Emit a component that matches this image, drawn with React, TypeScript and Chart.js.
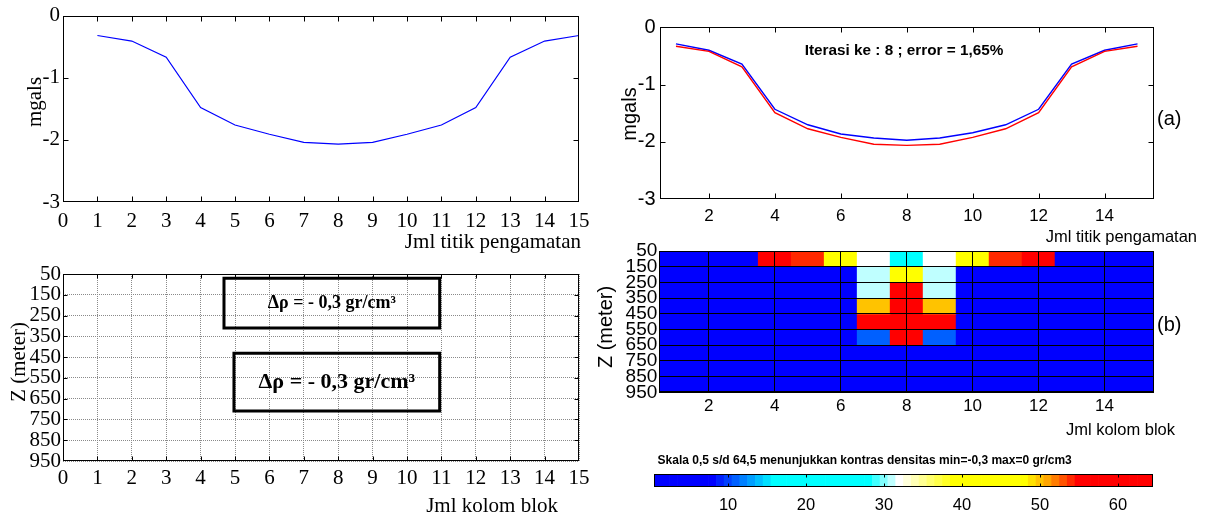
import React, { useEffect, useRef } from 'react';
import { Chart, registerables } from 'chart.js';

Chart.register(...registerables);

const SERIF = "'Liberation Serif', 'Times New Roman', serif";
const SANS = "'Liberation Sans', Arial, sans-serif";

// ---------------- data ----------------
const observationPoints = [1, 2, 3, 4, 5, 6, 7, 8, 9, 10, 11, 12, 13, 14, 15];
const anomalyModel = [-0.32, -0.41, -0.67, -1.48, -1.76, -1.91, -2.04, -2.07, -2.04, -1.91, -1.76, -1.48, -0.67, -0.41, -0.32];
const anomalyCalculated = [-0.29, -0.40, -0.64, -1.43, -1.70, -1.86, -1.93, -1.97, -1.93, -1.84, -1.70, -1.43, -0.64, -0.40, -0.29];
const anomalyObserved = [-0.33, -0.42, -0.69, -1.49, -1.77, -1.92, -2.04, -2.06, -2.04, -1.92, -1.77, -1.49, -0.69, -0.42, -0.33];

const blockColumns = [1, 2, 3, 4, 5, 6, 7, 8, 9, 10, 11, 12, 13, 14, 15];
const depthTicks = [50, 150, 250, 350, 450, 550, 650, 750, 850, 950];
const evenTicks = [2, 4, 6, 8, 10, 12, 14];

// colour index (0.5 .. 64.5 scale) of every block, one row per depth layer
const densityRow1 = [4, 4, 4, 60, 54, 44, 32, 22, 32, 44, 54, 60, 4, 4, 4];
const densityRow2 = [4, 4, 4, 4, 4, 4, 31, 44, 31, 4, 4, 4, 4, 4, 4];
const densityRow3 = [4, 4, 4, 4, 4, 4, 31, 60, 31, 4, 4, 4, 4, 4, 4];
const densityRow4 = [4, 4, 4, 4, 4, 4, 50, 60, 50, 4, 4, 4, 4, 4, 4];
const densityRow5 = [4, 4, 4, 4, 4, 4, 60, 60, 60, 4, 4, 4, 4, 4, 4];
const densityRow6 = [4, 4, 4, 4, 4, 4, 11, 60, 11, 4, 4, 4, 4, 4, 4];
const densityRow7 = [4, 4, 4, 4, 4, 4, 4, 4, 4, 4, 4, 4, 4, 4, 4];
const densityRow8 = [4, 4, 4, 4, 4, 4, 4, 4, 4, 4, 4, 4, 4, 4, 4];
const densityRow9 = [4, 4, 4, 4, 4, 4, 4, 4, 4, 4, 4, 4, 4, 4, 4];
const densityRows = [densityRow1, densityRow2, densityRow3, densityRow4, densityRow5, densityRow6, densityRow7, densityRow8, densityRow9];

const colorbarLevels = [
  1, 2, 3, 4, 5, 6, 7, 8, 9, 10, 11, 12, 13, 14, 15, 16, 17, 18, 19, 20, 21, 22, 23, 24, 25, 26, 27, 28, 29, 30, 31, 32,
  33, 34, 35, 36, 37, 38, 39, 40, 41, 42, 43, 44, 45, 46, 47, 48, 49, 50, 51, 52, 53, 54, 55, 56, 57, 58, 59, 60, 61, 62, 63, 64,
];
const colorbarTicks = [10, 20, 30, 40, 50, 60];

// model bodies drawn in the lower-left sketch (block columns / depth in metres)
const bodyXStart = [4.68, 4.97];
const bodyXEnd = [10.95, 10.95];
const bodyTop = [70, 431];
const bodyBottom = [310, 709];
const bodyLabel = ['Δρ = - 0,3 gr/cm³', 'Δρ = - 0,3 gr/cm³'];

// colormap anchors: [index, r, g, b]
const cmapStops: Array<[number, number, number, number]> = [
  [1, 0, 0, 255], [8, 0, 0, 255], [16, 0, 255, 255], [28, 0, 255, 255], [32, 255, 255, 255],
  [39, 255, 255, 0], [48, 255, 255, 0], [51, 255, 165, 0], [55, 255, 0, 0], [64, 255, 0, 0],
];

function cmapColor(v: number): string {
  const k = Math.min(64, Math.max(1, Math.round(v)));
  for (let i = 0; i < cmapStops.length - 1; i++) {
    const a = cmapStops[i];
    const b = cmapStops[i + 1];
    if (k >= a[0] && k <= b[0]) {
      const t = (k - a[0]) / (b[0] - a[0]);
      const c = (j: number) => Math.round(a[j] + (b[j] - a[j]) * t);
      return `rgb(${c(1)},${c(2)},${c(3)})`;
    }
  }
  return 'rgb(255,0,0)';
}

// ---------------- plugins ----------------
type TextItem = { text: string; x: number; y: number; font: string; align?: CanvasTextAlign; rotate?: number };

function textPlugin(items: TextItem[]) {
  return {
    id: 'panelTexts',
    afterDraw(chart: any) {
      const ctx = chart.ctx as CanvasRenderingContext2D;
      items.forEach((it) => {
        ctx.save();
        ctx.font = it.font;
        ctx.fillStyle = '#000';
        ctx.textAlign = it.align || 'center';
        ctx.textBaseline = 'middle';
        ctx.translate(it.x, it.y);
        if (it.rotate) ctx.rotate(it.rotate);
        ctx.fillText(it.text, 0, 0);
        ctx.restore();
      });
    },
  };
}

function framePlugin(o: { tickX?: boolean; tickY?: boolean; len?: number }) {
  return {
    id: 'matlabFrame',
    afterDraw(chart: any) {
      const ctx = chart.ctx as CanvasRenderingContext2D;
      const a = chart.chartArea;
      const L = o.len ?? 5;
      const left = Math.round(a.left) + 0.5;
      const right = Math.round(a.right) - 0.5;
      const top = Math.round(a.top) + 0.5;
      const bottom = Math.round(a.bottom) - 0.5;
      ctx.save();
      ctx.strokeStyle = '#000';
      ctx.lineWidth = 1;
      ctx.beginPath();
      if (o.tickX) {
        const s = chart.scales.x;
        s.ticks.forEach((t: any) => {
          const p = Math.round(s.getPixelForValue(t.value)) + 0.5;
          if (p <= left + 1 || p >= right - 1) return;
          ctx.moveTo(p, bottom);
          ctx.lineTo(p, bottom - L);
          ctx.moveTo(p, top);
          ctx.lineTo(p, top + L);
        });
      }
      if (o.tickY) {
        const s = chart.scales.y;
        s.ticks.forEach((t: any) => {
          const p = Math.round(s.getPixelForValue(t.value)) + 0.5;
          if (p <= top + 1 || p >= bottom - 1) return;
          ctx.moveTo(left, p);
          ctx.lineTo(left + L, p);
          ctx.moveTo(right, p);
          ctx.lineTo(right - L, p);
        });
      }
      ctx.stroke();
      ctx.strokeRect(left, top, right - left, bottom - top);
      ctx.restore();
    },
  };
}

function bodyLabelPlugin(fontSizes: number[]) {
  return {
    id: 'bodyLabels',
    afterDraw(chart: any) {
      const ctx = chart.ctx as CanvasRenderingContext2D;
      const xs = chart.scales.x;
      const ys = chart.scales.y;
      bodyLabel.forEach((label, i) => {
        const cx = (xs.getPixelForValue(bodyXStart[i]) + xs.getPixelForValue(bodyXEnd[i])) / 2;
        const cy = (ys.getPixelForValue(bodyTop[i]) + ys.getPixelForValue(bodyBottom[i])) / 2;
        ctx.save();
        ctx.font = `bold ${fontSizes[i]}px ${SERIF}`;
        ctx.fillStyle = '#000';
        ctx.textAlign = 'center';
        ctx.textBaseline = 'middle';
        ctx.fillText(label, cx, cy);
        ctx.restore();
      });
    },
  };
}

// ---------------- helpers ----------------
type Area = { l: number; t: number; r: number; b: number };

function baseOptions(W: number, area: Area, yVisible = true) {
  return {
    responsive: false,
    animation: false,
    events: [],
    layout: { padding: { left: yVisible ? 0 : area.l, top: area.t, right: W - area.r, bottom: 0 } },
    plugins: { legend: { display: false }, tooltip: { enabled: false } },
  };
}

function noGrid() {
  return { display: false, drawTicks: false, offset: false };
}

// ---------------- panel builders ----------------
const W1 = 600, H1 = 260;
const A1: Area = { l: 63, t: 15, r: 579, b: 202 };
function buildTopLeft() {
  return {
    type: 'line',
    data: {
      datasets: [
        {
          data: observationPoints.map((x, i) => ({ x, y: anomalyModel[i] })),
          borderColor: '#0000ff',
          borderWidth: 1.2,
          pointRadius: 0,
          tension: 0,
          fill: false,
        },
      ],
    },
    options: {
      ...baseOptions(W1, A1),
      scales: {
        x: {
          type: 'linear', min: 0, max: 15,
          ticks: { stepSize: 1, autoSkip: false, maxRotation: 0, padding: 7, color: '#000', font: { family: SERIF, size: 21 } },
          grid: noGrid(), border: { display: false },
          afterFit: (s: any) => { s.height = H1 - A1.b; },
        },
        y: {
          type: 'linear', min: -3, max: 0,
          ticks: { stepSize: 1, autoSkip: false, padding: 3, color: '#000', font: { family: SERIF, size: 21 } },
          grid: noGrid(), border: { display: false },
          afterFit: (s: any) => { s.width = A1.l; },
        },
      },
    },
    plugins: [
      framePlugin({ tickX: true, tickY: true, len: 5 }),
      textPlugin([
        { text: 'mgals', x: 35, y: 102, font: `21px ${SERIF}`, rotate: -Math.PI / 2 },
        { text: 'Jml titik pengamatan', x: 581, y: 242, font: `21px ${SERIF}`, align: 'right' },
      ]),
    ],
  };
}

const W2 = 600, H2 = 262;
const A2: Area = { l: 63, t: 19, r: 579, b: 206 };
function buildBottomLeft() {
  return {
    type: 'line',
    data: {
      datasets: bodyLabel.map((_, i) => ({
        data: [
          { x: bodyXStart[i], y: bodyTop[i] },
          { x: bodyXEnd[i], y: bodyTop[i] },
          { x: bodyXEnd[i], y: bodyBottom[i] },
          { x: bodyXStart[i], y: bodyBottom[i] },
          { x: bodyXStart[i], y: bodyTop[i] },
        ],
        borderColor: '#000',
        borderWidth: 3,
        borderCapStyle: 'square',
        borderJoinStyle: 'miter',
        pointRadius: 0,
        tension: 0,
        fill: false,
      })),
    },
    options: {
      ...baseOptions(W2, A2),
      scales: {
        x: {
          type: 'linear', min: 0, max: 15,
          ticks: { stepSize: 1, autoSkip: false, maxRotation: 0, padding: 5, color: '#000', font: { family: SERIF, size: 21 } },
          grid: { display: true, drawTicks: false, color: '#8a8a8a', lineWidth: 1 },
          border: { display: false, dash: [1, 1] },
          afterFit: (s: any) => { s.height = H2 - A2.b; },
        },
        y: {
          type: 'linear', min: 50, max: 950, reverse: true,
          ticks: { stepSize: 100, autoSkip: false, padding: 2, color: '#000', font: { family: SERIF, size: 21 } },
          grid: { display: true, drawTicks: false, color: '#8a8a8a', lineWidth: 1 },
          border: { display: false, dash: [1, 1] },
          afterFit: (s: any) => { s.width = A2.l; },
        },
      },
    },
    plugins: [
      framePlugin({ tickX: true, tickY: true, len: 4 }),
      bodyLabelPlugin([18, 22]),
      textPlugin([
        { text: 'Z (meter)', x: 19, y: 107, font: `21px ${SERIF}`, rotate: -Math.PI / 2 },
        { text: 'Jml kolom blok', x: 558, y: 251, font: `21px ${SERIF}`, align: 'right' },
      ]),
    ],
  };
}

const W3 = 611, H3 = 250;
const A3: Area = { l: 59.5, t: 27.3, r: 554, b: 199.3 };
function buildTopRight() {
  return {
    type: 'line',
    data: {
      datasets: [
        {
          data: observationPoints.map((x, i) => ({ x, y: anomalyObserved[i] })),
          borderColor: '#ff0000', borderWidth: 1.4, pointRadius: 0, tension: 0, fill: false,
        },
        {
          data: observationPoints.map((x, i) => ({ x, y: anomalyCalculated[i] })),
          borderColor: '#0000ff', borderWidth: 1.4, pointRadius: 0, tension: 0, fill: false,
        },
      ],
    },
    options: {
      ...baseOptions(W3, A3),
      scales: {
        x: {
          type: 'linear', min: 0.5, max: 15.5,
          afterBuildTicks: (s: any) => { s.ticks = evenTicks.map((v) => ({ value: v })); },
          ticks: { autoSkip: false, maxRotation: 0, padding: 7, color: '#000', font: { family: SANS, size: 17 } },
          grid: noGrid(), border: { display: false },
          afterFit: (s: any) => { s.height = H3 - A3.b; },
        },
        y: {
          type: 'linear', min: -3, max: 0,
          ticks: { stepSize: 1, autoSkip: false, padding: 4, color: '#000', font: { family: SANS, size: 20 } },
          grid: noGrid(), border: { display: false },
          afterFit: (s: any) => { s.width = A3.l; },
        },
      },
    },
    plugins: [
      framePlugin({ tickX: true, tickY: true, len: 5 }),
      textPlugin([
        { text: 'mgals', x: 30, y: 114, font: `20px ${SANS}`, rotate: -Math.PI / 2 },
        { text: 'Iterasi ke : 8 ; error = 1,65%', x: 304, y: 51, font: `bold 15.3px ${SANS}` },
        { text: '(a)', x: 557, y: 119, font: `20px ${SANS}`, align: 'left' },
        { text: 'Jml titik pengamatan', x: 597, y: 237, font: `16.5px ${SANS}`, align: 'right' },
      ]),
    ],
  };
}

const W4 = 631, H4 = 210;
const A4: Area = { l: 79.3, t: 16, r: 574, b: 157.3 };
function buildHeatmap() {
  return {
    type: 'bar',
    data: {
      datasets: densityRows.map((row, i) => ({
        data: blockColumns.map((c) => ({ x: c, y: [depthTicks[i], depthTicks[i + 1]] })),
        backgroundColor: row.map((v) => cmapColor(v)),
        borderWidth: 0,
        grouped: false,
        barPercentage: 1,
        categoryPercentage: 1,
      })),
    },
    options: {
      ...baseOptions(W4, A4),
      scales: {
        x: {
          type: 'linear', min: 0.5, max: 15.5, offset: false,
          afterBuildTicks: (s: any) => { s.ticks = evenTicks.map((v) => ({ value: v })); },
          ticks: { autoSkip: false, maxRotation: 0, padding: 4, color: '#000', font: { family: SANS, size: 17 } },
          grid: { display: true, drawTicks: false, offset: false, color: '#000', lineWidth: 1, z: 1 },
          border: { display: false },
          afterFit: (s: any) => { s.height = H4 - A4.b; },
        },
        y: {
          type: 'linear', min: 50, max: 950, reverse: true,
          ticks: { stepSize: 100, autoSkip: false, padding: 2, color: '#000', font: { family: SANS, size: 19 } },
          grid: { display: true, drawTicks: false, color: '#000', lineWidth: 1, z: 1 },
          border: { display: false },
          afterFit: (s: any) => { s.width = A4.l; },
        },
      },
    },
    plugins: [
      framePlugin({}),
      textPlugin([
        { text: 'Z (meter)', x: 26, y: 92, font: `20px ${SANS}`, rotate: -Math.PI / 2 },
        { text: '(b)', x: 577, y: 90, font: `20px ${SANS}`, align: 'left' },
        { text: 'Jml kolom blok', x: 595, y: 195, font: `16.5px ${SANS}`, align: 'right' },
      ]),
    ],
  };
}

const W5 = 611, H5 = 77;
const A5: Area = { l: 54, t: 34, r: 553, b: 47 };
function buildColorbar() {
  return {
    type: 'bar',
    data: {
      datasets: [
        {
          data: colorbarLevels.map((v) => ({ x: v, y: [0, 1] })),
          backgroundColor: colorbarLevels.map((v) => cmapColor(v)),
          borderWidth: 0,
          barPercentage: 1,
          categoryPercentage: 1,
        },
      ],
    },
    options: {
      ...baseOptions(W5, A5, false),
      scales: {
        x: {
          type: 'linear', min: 0.5, max: 64.5, offset: false,
          afterBuildTicks: (s: any) => { s.ticks = colorbarTicks.map((v) => ({ value: v })); },
          ticks: { autoSkip: false, maxRotation: 0, padding: 9, color: '#000', font: { family: SANS, size: 16.5 } },
          grid: noGrid(), border: { display: false },
          afterFit: (s: any) => { s.height = H5 - A5.b; },
        },
        y: { type: 'linear', display: false, min: 0, max: 1 },
      },
    },
    plugins: [
      framePlugin({ tickX: true, len: 3 }),
      textPlugin([
        {
          text: 'Skala 0,5 s/d 64,5 menunjukkan kontras densitas min=-0,3 max=0 gr/cm3',
          x: 57.6, y: 21, font: `bold 12px ${SANS}`, align: 'left',
        },
      ]),
    ],
  };
}

// ---------------- components ----------------
function ChartCanvas(props: { left: number; top: number; width: number; height: number; build: () => any }) {
  const { left, top, width, height, build } = props;
  const ref = useRef<HTMLCanvasElement | null>(null);
  useEffect(() => {
    if (!ref.current) return;
    const chart = new Chart(ref.current, build());
    return () => chart.destroy();
  }, [build]);
  return (
    <canvas
      ref={ref}
      width={width}
      height={height}
      style={{ position: 'absolute', left, top, width, height, display: 'block' }}
    />
  );
}

export default function App() {
  return (
    <div style={{ position: 'absolute', left: 0, top: 0, width: 1211, height: 517, background: '#fff', overflow: 'hidden' }}>
      <ChartCanvas left={0} top={0} width={W1} height={H1} build={buildTopLeft} />
      <ChartCanvas left={0} top={255} width={W2} height={H2} build={buildBottomLeft} />
      <ChartCanvas left={600} top={0} width={W3} height={H3} build={buildTopRight} />
      <ChartCanvas left={580} top={235} width={W4} height={H4} build={buildHeatmap} />
      <ChartCanvas left={600} top={440} width={W5} height={H5} build={buildColorbar} />
    </div>
  );
}
